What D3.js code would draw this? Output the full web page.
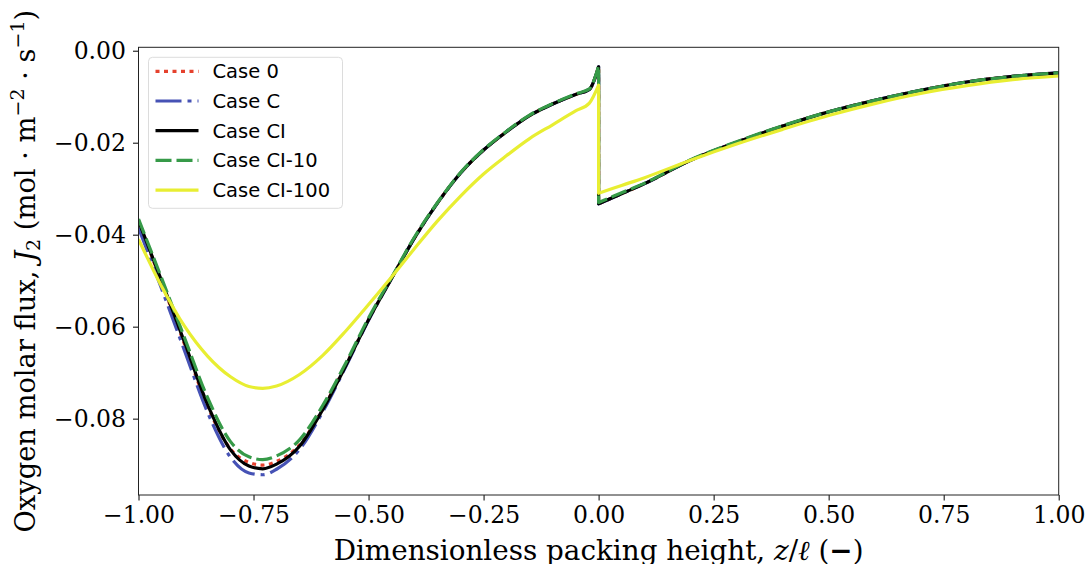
<!DOCTYPE html>
<html>
<head>
<meta charset="utf-8">
<script src="https://cdn.jsdelivr.net/npm/d3@7"></script>
<style>
  body { margin: 0; background: #fff; }
  svg { display: block; }
  .tick text { font-family: "DejaVu Serif", serif; font-size: 23.5px; fill: #000; }
</style>
</head>
<body>
<svg id="chart" width="1089" height="564"></svg>
<script>
// dimensionless height z/l (0 appears twice: value just below and just above the jump)
const zValues = [-1, -0.95, -0.9, -0.85, -0.8, -0.76, -0.73, -0.7, -0.65, -0.6, -0.55, -0.5,
  -0.45, -0.4, -0.35, -0.3, -0.25, -0.2, -0.15, -0.1, -0.05, -0.02, 0,
  0, 0.05, 0.1, 0.2, 0.3, 0.4, 0.5, 0.6, 0.7, 0.8, 0.9, 1];
const JUMP = 23; // first index after the jump at z = 0

const case0 = [-0.0372, -0.0503, -0.0638, -0.0773, -0.0866, -0.0895, -0.0901, -0.0893, -0.0857, -0.0780, -0.0685, -0.0585,
  -0.0495, -0.0407, -0.0331, -0.0266, -0.0216, -0.0176, -0.0141, -0.0116, -0.0095, -0.0084, -0.0035,
  -0.0333, -0.0311, -0.0289, -0.0238, -0.0199, -0.0164, -0.0133, -0.0108, -0.0086, -0.0068, -0.0056, -0.0048];
const caseC = [-0.0385, -0.0517, -0.0652, -0.0786, -0.0884, -0.0918, -0.0922, -0.0910, -0.0867, -0.0786, -0.0688, -0.0586,
  -0.0495, -0.0407, -0.0331, -0.0266, -0.0216, -0.0176, -0.0141, -0.0116, -0.0095, -0.0084, -0.0035,
  -0.0333, -0.0311, -0.0289, -0.0238, -0.0199, -0.0164, -0.0133, -0.0108, -0.0086, -0.0068, -0.0056, -0.0048];
const caseCI = [-0.0370, -0.0500, -0.0634, -0.0769, -0.0868, -0.0903, -0.0909, -0.0899, -0.0860, -0.0781, -0.0686, -0.0585,
  -0.0495, -0.0407, -0.0331, -0.0266, -0.0216, -0.0176, -0.0141, -0.0116, -0.0095, -0.0084, -0.0035,
  -0.0333, -0.0311, -0.0289, -0.0238, -0.0199, -0.0164, -0.0133, -0.0108, -0.0086, -0.0068, -0.0056, -0.0048];
const caseCI10 = [-0.0366, -0.0494, -0.0624, -0.0754, -0.0850, -0.0883, -0.0889, -0.0881, -0.0846, -0.0772, -0.0680, -0.0581,
  -0.0493, -0.0405, -0.0330, -0.0265, -0.0215, -0.0175, -0.0140, -0.0115, -0.0094, -0.0083, -0.0033,
  -0.0330, -0.0309, -0.0288, -0.0237, -0.0198, -0.0163, -0.0133, -0.0108, -0.0086, -0.0068, -0.0056, -0.0048];
const caseCI100 = [-0.0410, -0.0512, -0.0599, -0.0664, -0.0709, -0.0730, -0.0734, -0.0729, -0.0704, -0.0663, -0.0610, -0.0552,
  -0.0492, -0.0430, -0.0370, -0.0316, -0.0268, -0.0228, -0.0191, -0.0161, -0.0131, -0.0114, -0.0075,
  -0.0310, -0.0293, -0.0276, -0.0238, -0.0203, -0.0171, -0.0141, -0.0115, -0.0093, -0.0076, -0.0063, -0.0055];

const seriesNames = ["Case 0", "Case C", "Case CI", "Case CI-10", "Case CI-100"];
const seriesValues = [case0, caseC, caseCI, caseCI10, caseCI100];
const xTicks = [-1, -0.75, -0.5, -0.25, 0, 0.25, 0.5, 0.75, 1];
const yTicks = [-0.08, -0.06, -0.04, -0.02, 0];

// styles per series
const styles = [
  {color: "#e5412d", dash: "4,4.5"},
  {color: "#4652b5", dash: "26,6,4,6"},
  {color: "#000000", dash: null},
  {color: "#369a48", dash: "16,5"},
  {color: "#e8ee32", dash: null}
];

const svg = d3.select("#chart"),
    margin = {top: 47.3, right: 30.3, bottom: 69, left: 138.5},
    width = +svg.attr("width") - margin.left - margin.right,
    height = +svg.attr("height") - margin.top - margin.bottom;

const x = d3.scaleLinear().domain([-1, 1]).range([0, width]);
const y = d3.scaleLinear().domain([-0.0966, 0.00074]).range([height, 0]);

const g = svg.append("g")
    .attr("transform", "translate(" + margin.left + "," + margin.top + ")");

g.append("defs").append("clipPath").attr("id", "clip")
  .append("rect").attr("width", width).attr("height", height);

// curves: smooth on both sides, straight drop at z = 0
const line = d3.line()
    .x(d => x(d[0]))
    .y(d => y(d[1]))
    .curve(d3.curveMonotoneX);

function curvePath(vals) {
    const pts = zValues.map((z, i) => [z, vals[i]]);
    const left = line(pts.slice(0, JUMP));
    const right = line(pts.slice(JUMP));
    return left + "L" + right.slice(1);
}

const plot = g.append("g").attr("clip-path", "url(#clip)");
seriesValues.forEach((vals, i) => {
    plot.append("path")
        .attr("d", curvePath(vals))
        .attr("fill", "none")
        .attr("stroke", styles[i].color)
        .attr("stroke-width", 3.2)
        .attr("stroke-dasharray", styles[i].dash)
        .attr("stroke-linejoin", "round");
});

// axes
g.append("g")
    .attr("class", "axis axis--x")
    .attr("transform", "translate(0," + height + ")")
    .call(d3.axisBottom(x).tickValues(xTicks).tickFormat(d3.format(".2f")).tickSizeOuter(0).tickSize(5.5).tickPadding(6));

g.append("g")
    .attr("class", "axis axis--y")
    .call(d3.axisLeft(y).tickValues(yTicks).tickFormat(d3.format(".2f")).tickSizeOuter(0).tickSize(5.5).tickPadding(7));

g.selectAll(".axis .domain").remove();
g.selectAll(".axis line").attr("stroke", "#000").attr("stroke-width", 1);

g.append("rect")
    .attr("width", width)
    .attr("height", height)
    .attr("fill", "none")
    .attr("stroke", "#222")
    .attr("stroke-width", 1);

// legend
const legend = g.append("g").attr("transform", "translate(10,10)");
legend.append("rect")
    .attr("width", 194)
    .attr("height", 151)
    .attr("rx", 4)
    .attr("fill", "#fff")
    .attr("fill-opacity", 0.8)
    .attr("stroke", "#dcdcdc");
seriesNames.forEach((name, i) => {
    const row = legend.append("g").attr("transform", "translate(0," + (14 + i * 29.7) + ")");
    row.append("line")
        .attr("x1", 7).attr("x2", 50)
        .attr("stroke", styles[i].color)
        .attr("stroke-width", 3.2)
        .attr("stroke-dasharray", styles[i].dash);
    row.append("text")
        .attr("x", 64)
        .attr("dy", "0.35em")
        .attr("font-family", "DejaVu Sans, sans-serif")
        .attr("font-size", 19.5)
        .text(name);
});

// axis labels
const xl = svg.append("text")
    .attr("x", margin.left + width / 2)
    .attr("y", 560)
    .attr("text-anchor", "middle")
    .attr("font-family", "DejaVu Serif, serif")
    .attr("font-size", 27.8);
xl.append("tspan").text("Dimensionless packing height, ");
xl.append("tspan").attr("font-style", "italic").text("z");
xl.append("tspan").text("/");
xl.append("tspan").attr("font-style", "italic").text("ℓ");
xl.append("tspan").text(" (");
xl.append("tspan").attr("font-weight", "bold").text("−");
xl.append("tspan").text(")");

const yl = svg.append("text")
    .attr("transform", "translate(35," + (margin.top + height / 2) + ") rotate(-90)")
    .attr("text-anchor", "middle")
    .attr("font-family", "DejaVu Serif, serif")
    .attr("font-size", 27.3);
yl.append("tspan").text("Oxygen molar flux, ");
yl.append("tspan").attr("font-style", "italic").text("J");
yl.append("tspan").attr("font-size", 19).attr("dy", 5).text("2");
yl.append("tspan").attr("dy", -5).text(" (mol · m");
yl.append("tspan").attr("font-size", 19).attr("dy", -11).text("−2");
yl.append("tspan").attr("dy", 11).text(" · s");
yl.append("tspan").attr("font-size", 19).attr("dy", -11).text("−1");
yl.append("tspan").attr("dy", 11).text(")");
</script>
</body>
</html>
